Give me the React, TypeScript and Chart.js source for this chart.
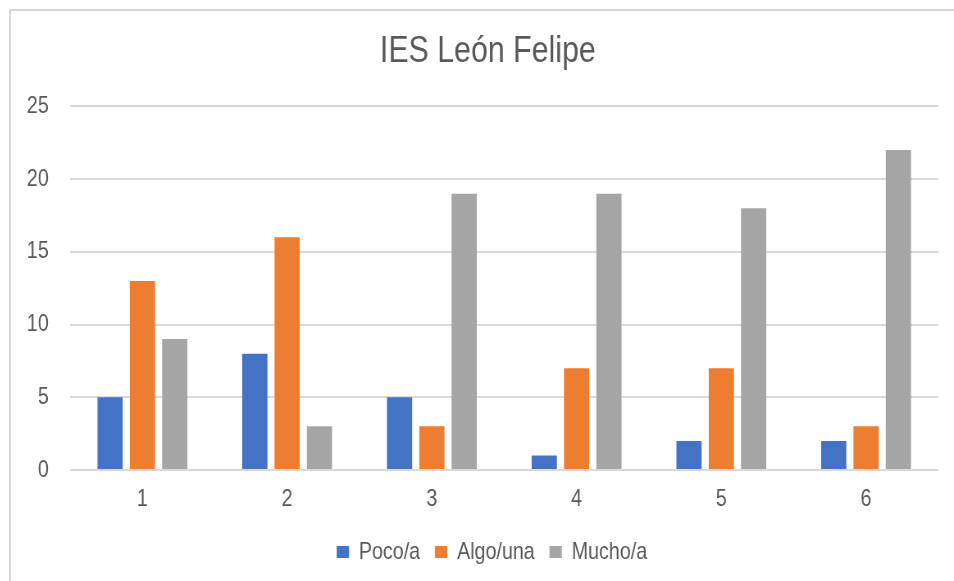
import React, { useEffect, useRef } from "react";
import { Chart, registerables } from "chart.js";

Chart.register(...registerables);

const categories = ["1", "2", "3", "4", "5", "6"];
const pocoValues = [5, 8, 5, 1, 2, 2];
const algoValues = [13, 16, 3, 7, 7, 3];
const muchoValues = [9, 3, 19, 19, 18, 22];
const seriesLabels = ["Poco/a", "Algo/una", "Mucho/a"];
const seriesColors = ["#4472C4", "#ED7D31", "#A5A5A5"];
const chartTitle = "IES León Felipe";

// Narrow font emulation: draw with Liberation Sans and compress horizontally
const SX = 0.82;
const FONT = "'Liberation Sans', Arial, sans-serif";
const TEXT = "#595959";
const CW = Math.round(954 / SX);
const CH = 570;

const shiftBlocks = {
  id: "shiftBlocks",
  afterLayout(c: any) {
    const t = c.titleBlock;
    if (t) {
      t.left += 16;
      t.right += 16;
    }
    const l = c.legend;
    if (l) {
      l.left += 21;
      l.right += 21;
    }
  },
};

export default function App() {
  const ref = useRef<HTMLCanvasElement | null>(null);

  useEffect(() => {
    if (!ref.current) return;
    const chart = new Chart(ref.current, {
      type: "bar",
      data: {
        labels: categories,
        datasets: [pocoValues, algoValues, muchoValues].map((d, i) => ({
          label: seriesLabels[i],
          data: d,
          backgroundColor: seriesColors[i],
          borderWidth: 0,
          categoryPercentage: 0.67,
          barPercentage: 0.78,
        })),
      },
      plugins: [shiftBlocks],
      options: {
        responsive: false,
        animation: false,
        devicePixelRatio: 1,
        layout: { padding: { left: 0, right: Math.round(26 / SX), top: 19, bottom: 7 } },
        plugins: {
          title: {
            display: true,
            text: chartTitle,
            color: TEXT,
            font: { family: FONT, size: 37, weight: "normal", lineHeight: 1.2 },
            padding: { top: 0, bottom: 32 },
          },
          legend: {
            position: "bottom",
            labels: {
              color: TEXT,
              font: { family: FONT, size: 24 },
              boxWidth: 15,
              boxHeight: 12,
              padding: 18,
            },
          },
          tooltip: { enabled: false },
        },
        scales: {
          x: {
            grid: { display: false, drawTicks: false },
            border: { display: false },
            ticks: { color: TEXT, font: { family: FONT, size: 24 }, padding: 15 },
            afterFit: (s: any) => {
              s.height = 52;
            },
          },
          y: {
            min: 0,
            max: 25,
            ticks: { stepSize: 5, color: TEXT, font: { family: FONT, size: 24 }, padding: 26 },
            grid: { color: "#D9D9D9", lineWidth: 2, drawTicks: false },
            border: { display: false },
            afterFit: (s: any) => {
              s.width = 72;
            },
          },
        },
      },
    });
    return () => chart.destroy();
  }, []);

  return (
    <div style={{ position: "absolute", left: 9, top: 9, width: 945, height: 572, overflow: "hidden" }}>
      <div
        style={{
          borderLeft: "2px solid #D9D9D9",
          borderTop: "2px solid #D9D9D9",
          width: 960,
          height: 570,
          background: "#fff",
        }}
      >
        <div style={{ transform: `scaleX(${SX})`, transformOrigin: "0 0", width: CW, height: CH }}>
          <canvas ref={ref} width={CW} height={CH} style={{ display: "block" }} />
        </div>
      </div>
    </div>
  );
}
